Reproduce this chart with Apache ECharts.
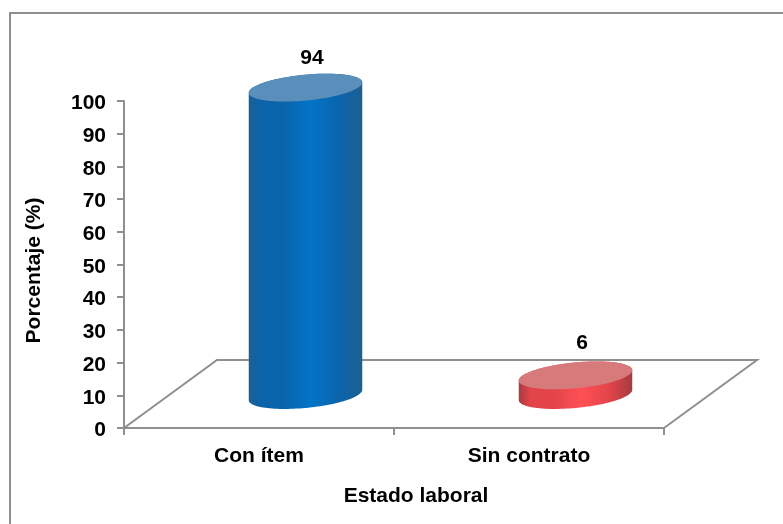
<!DOCTYPE html>
<html><head><meta charset="utf-8">
<style>html,body{margin:0;padding:0;background:#fff}#c{width:783px;height:524px}</style>
<script src="https://cdn.jsdelivr.net/npm/echarts@6/dist/echarts.min.js"></script>
</head><body><div id="c"></div>
<script>
var categories = ['Con ítem', 'Sin contrato'];
var values = [94, 6];
var yTicks = {min: 0, max: 100, interval: 10};
var yName = 'Porcentaje (%)';
var xName = 'Estado laboral';
var palettes = [
  {edge: '#1c6093', dark: '#0b64aa', mid: '#0274c8', top: '#5a8fbc', nudge: 3.5},
  {edge: '#a33c40', dark: '#e2444a', mid: '#ff5055', top: '#d77a7c', nudge: 0}
];
var FONT = '"Liberation Sans", Arial, sans-serif';
var GREY = '#8f8f8f';
var FS = 21;
var chart = echarts.init(document.getElementById('c'), null, {renderer: 'canvas'});

var DX = 46.5, DY = -33, A = 57, B = 12.9, TH = -5.5 * Math.PI / 180;
function ell(cx, cy, t) {
  var c = Math.cos(t), s = Math.sin(t);
  return [cx + A * c * Math.cos(TH) - B * s * Math.sin(TH),
          cy + A * c * Math.sin(TH) + B * s * Math.cos(TH)];
}
var T0 = Math.atan2(-B * Math.sin(TH), A * Math.cos(TH));

function renderCyl(params, api) {
  var i = api.value(0), v = api.value(1), p = palettes[i];
  var base = api.coord([i, 0]), top = api.coord([i, v]);
  var cx = base[0] + DX, by = base[1] + DY, ty = top[1] + DY;
  var pts = [], k, n = 60, t;
  for (k = 0; k <= n; k++) { t = T0 + Math.PI * k / n; pts.push(ell(cx, by, t)); }
  for (k = 0; k <= n; k++) { t = T0 + Math.PI + Math.PI * k / n; pts.push(ell(cx, ty, t)); }
  var cap = [];
  for (k = 0; k < 120; k++) cap.push(ell(cx, ty, Math.PI * 2 * k / 120));
  var grad = new echarts.graphic.LinearGradient(0, 0, 1, 0, [
    {offset: 0, color: p.edge}, {offset: 0.1, color: p.dark}, {offset: 0.3, color: p.dark},
    {offset: 0.55, color: p.mid}, {offset: 0.8, color: p.dark}, {offset: 1, color: p.edge}
  ]);
  return {type: 'group', children: [
    {type: 'polygon', shape: {points: pts}, style: {fill: grad}},
    {type: 'polygon', shape: {points: cap}, style: {fill: p.top}},
    {type: 'text', style: {text: String(v), x: cx + 6.5, y: ty - 32.5 + p.nudge, align: 'center', verticalAlign: 'middle',
      font: 'bold ' + FS + 'px ' + FONT, fill: '#000'}}
  ]};
}
function renderFloor(params, api) {
  var o = api.coord([0, 0]), w = api.size([1, 0])[0];
  var x0 = o[0] - w / 2, y0 = o[1], x1 = x0 + 2 * w;
  var ddx = 93, ddy = -68;
  return {type: 'polyline', shape: {points: [[x0, y0], [x0 + ddx, y0 + ddy], [x1 + ddx, y0 + ddy], [x1, y0]]},
    style: {stroke: GREY, lineWidth: 2, fill: null}};
}

chart.setOption({
  animation: false,
  backgroundColor: '#fff',
  graphic: [{type: 'polyline', shape: {points: [[10, 524], [10, 13], [783, 13]]}, style: {fill: null, stroke: GREY, lineWidth: 2}, silent: true, z: -1}],
  grid: {left: 124, top: 101, width: 540, height: 327},
  xAxis: {
    type: 'category', data: categories,
    name: xName, nameLocation: 'middle', nameGap: 58,
    nameTextStyle: {fontFamily: FONT, fontWeight: 'bold', fontSize: FS, color: '#000', padding: [0, 0, 0, 44]},
    axisLine: {lineStyle: {color: GREY, width: 2}},
    axisTick: {show: true, length: 7, lineStyle: {color: GREY, width: 2}},
    axisLabel: {fontFamily: FONT, fontWeight: 'bold', fontSize: FS, color: '#000', margin: 18},
    splitLine: {show: false}
  },
  yAxis: {
    type: 'value', min: yTicks.min, max: yTicks.max, interval: yTicks.interval,
    name: yName, nameLocation: 'middle', nameGap: 79, nameRotate: 90,
    nameTextStyle: {fontFamily: FONT, fontWeight: 'bold', fontSize: FS, color: '#000', padding: [6, 12, 0, 0]},
    axisLine: {show: true, lineStyle: {color: GREY, width: 2}},
    axisTick: {show: true, length: 7, lineStyle: {color: GREY, width: 2}},
    axisLabel: {
      margin: 18,
      formatter: function (v) { return '{n|' + v + '}'; },
      rich: {n: {fontFamily: FONT, fontWeight: 'bold', fontSize: FS, color: '#000', padding: [5, 0, 0, 0]}}
    },
    splitLine: {show: false}
  },
  series: [
    {type: 'custom', renderItem: renderFloor, data: [[0, 0]], encode: {x: 0, y: 1}, silent: true, z: 1, clip: false},
    {type: 'custom', renderItem: renderCyl, data: values.map(function (v, i) { return [i, v]; }), encode: {x: 0, y: 1}, z: 3, clip: false}
  ]
});
</script></body></html>
